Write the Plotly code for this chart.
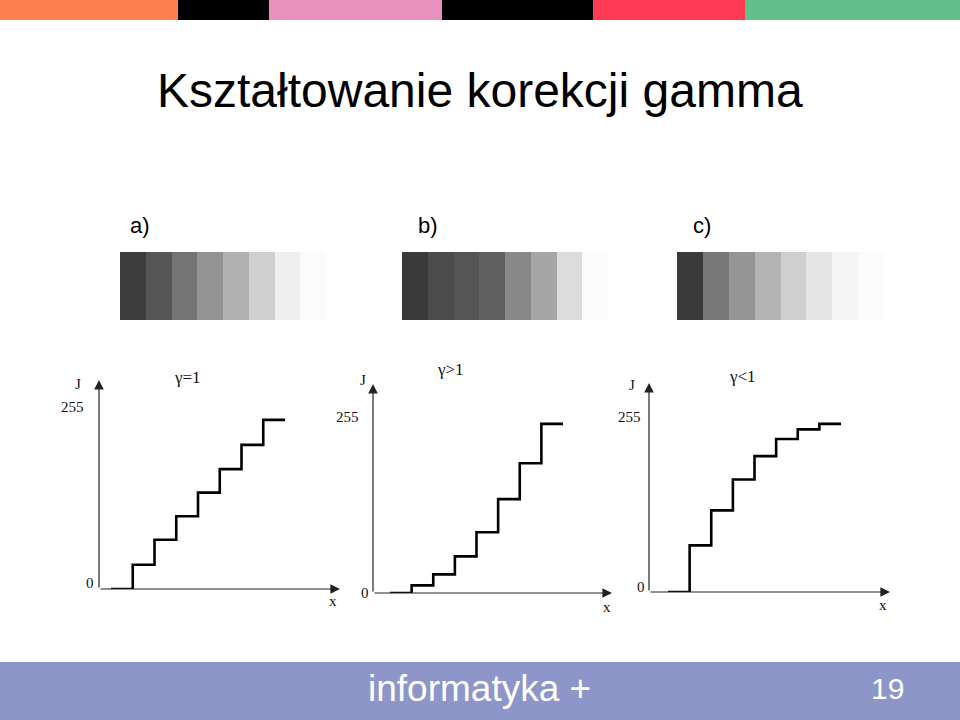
import plotly.graph_objects as go

# ---------------- data ----------------
panel_labels = ["a)", "b)", "c)"]
gamma_labels = ["γ=1", "γ>1", "γ<1"]

# gray levels of the 8 strips in each panel
strip_a = [61, 86, 116, 147, 177, 208, 239, 251]
strip_b = [58, 76, 85, 95, 136, 166, 220, 251]
strip_c = [58, 120, 149, 180, 207, 229, 245, 251]

# input intensity edges (8 quantisation steps)
x_edges = [0, 32, 64, 96, 128, 160, 192, 224, 256]
# output levels J of each step
levels_a = [0, 34, 69, 102, 135, 168, 202, 237]
levels_b = [0, 11, 27, 53, 88, 136, 188, 245]
levels_c = [0, 68, 119, 164, 198, 223, 237, 245]

W, H = 960, 720
def px(x):
    return x / W
def py(y):
    return 1 - y / H

fig = go.Figure()

# ---------- staircase panels ----------
panels = [
    dict(levels=levels_a, ox=99, oy=589, top=380, s0=111, s1=285, j255=407, tip=340),
    dict(levels=levels_b, ox=373, oy=593, top=384, s0=390, s1=563, j255=417, tip=612),
    dict(levels=levels_c, ox=649, oy=592, top=383, s0=668, s1=841, j255=417, tip=890),
]
text_pos = [
    dict(J=(78, 384), t255=(72, 407), t0=(90, 583), x=(333, 601), g=(187, 377)),
    dict(J=(363, 380), t255=(347, 417), t0=(365, 593), x=(607, 607), g=(450, 370)),
    dict(J=(632, 385), t255=(629, 417), t0=(641, 587), x=(883, 605), g=(742, 376)),
]

annotations = []
for i, p in enumerate(panels):
    n = "" if i == 0 else str(i + 1)
    xa, ya = "x" + n, "y" + n
    step_px = (p["s1"] - p["s0"]) / 8.0
    unit = step_px / 32.0
    xmin = -(p["s0"] - p["ox"]) / unit
    xmax = (p["tip"] - p["s0"]) / unit
    jpx = (p["oy"] - p["j255"]) / 255.0
    ymax = (p["oy"] - p["top"]) / jpx
    levels = p["levels"]
    fig.add_trace(go.Scatter(
        x=x_edges, y=levels + [levels[-1]], mode="lines",
        line=dict(shape="hv", color="black", width=2.6),
        xaxis=xa, yaxis=ya, showlegend=False, hoverinfo="skip"))
    lay_x = dict(domain=[px(p["ox"]), px(p["tip"])], range=[xmin, xmax],
                 visible=False, fixedrange=True)
    lay_y = dict(domain=[py(p["oy"]), py(p["top"])], range=[0, ymax],
                 visible=False, fixedrange=True)
    if i > 0:
        lay_y["anchor"] = xa
        lay_x["anchor"] = ya
    fig.update_layout(**{("xaxis" + n): lay_x, ("yaxis" + n): lay_y})
    # axis arrows
    for (tx, ty) in [(xmax, 0), (xmin, ymax)]:
        annotations.append(dict(
            xref=xa, yref=ya, axref=xa, ayref=ya, x=tx, y=ty, ax=xmin, ay=0,
            showarrow=True, arrowhead=2, arrowsize=1.6, arrowwidth=1.2,
            arrowcolor="#222", text=""))
    tp = text_pos[i]
    serif = dict(family="Liberation Serif", size=15, color="#111")
    for key, txt in [("J", "J"), ("t255", "255"), ("t0", "0"), ("x", "x")]:
        annotations.append(dict(xref="paper", yref="paper", x=px(tp[key][0]),
                                y=py(tp[key][1]), text=txt, showarrow=False,
                                font=serif, xanchor="center", yanchor="middle"))
    annotations.append(dict(xref="paper", yref="paper", x=px(tp["g"][0]),
                            y=py(tp["g"][1]), text=gamma_labels[i], showarrow=False,
                            font=dict(family="Liberation Serif", size=17, color="#111"),
                            xanchor="center", yanchor="middle"))

# ---------- gray strips ----------
strips = [strip_a, strip_b, strip_c]
strip_px = [(120, 326), (402, 608), (677, 884)]
label_px = [140, 428, 702]
for k, (vals, (x0, x1)) in enumerate(zip(strips, strip_px)):
    n = str(k + 4)
    fig.add_trace(go.Heatmap(
        z=[vals], x=list(range(8)), y=[0],
        colorscale=[[0, "rgb(0,0,0)"], [1, "rgb(255,255,255)"]],
        zmin=0, zmax=255, showscale=False, hoverinfo="skip",
        xaxis="x" + n, yaxis="y" + n))
    fig.update_layout(**{
        "xaxis" + n: dict(domain=[px(x0), px(x1)], range=[-0.5, 7.5], visible=False,
                          anchor="y" + n, fixedrange=True),
        "yaxis" + n: dict(domain=[py(320), py(252)], range=[-0.5, 0.5], visible=False,
                          anchor="x" + n, fixedrange=True),
    })
    annotations.append(dict(xref="paper", yref="paper", x=px(label_px[k]), y=py(225),
                            text=panel_labels[k], showarrow=False,
                            font=dict(family="Liberation Sans", size=22, color="black"),
                            xanchor="center", yanchor="middle"))

# ---------- title & footer ----------
annotations.append(dict(xref="paper", yref="paper", x=px(480), y=py(90),
                        text="Kształtowanie korekcji gamma", showarrow=False,
                        font=dict(family="Liberation Sans", size=48, color="black"),
                        xanchor="center", yanchor="middle"))
annotations.append(dict(xref="paper", yref="paper", x=px(479), y=py(688),
                        text="informatyka +", showarrow=False,
                        font=dict(family="Liberation Sans", size=37, color="white"),
                        xanchor="center", yanchor="middle"))
annotations.append(dict(xref="paper", yref="paper", x=px(887), y=py(688),
                        text="19", showarrow=False,
                        font=dict(family="Liberation Sans", size=30, color="white"),
                        xanchor="center", yanchor="middle"))

shapes = []
top_bar = [(0, 178, "#fe7f4e"), (178, 269, "#000000"), (269, 442, "#e991bd"),
           (442, 593, "#000000"), (593, 745, "#fe3a54"), (745, 960, "#63c08b")]
for x0, x1, c in top_bar:
    shapes.append(dict(type="rect", xref="paper", yref="paper", x0=px(x0), x1=px(x1),
                       y0=py(20), y1=1, fillcolor=c, line=dict(width=0), layer="below"))
shapes.append(dict(type="rect", xref="paper", yref="paper", x0=0, x1=1,
                   y0=0, y1=py(662), fillcolor="#8e96c9", line=dict(width=0), layer="below"))

fig.update_layout(width=W, height=H, margin=dict(l=0, r=0, t=0, b=0),
                  paper_bgcolor="white", plot_bgcolor="rgba(0,0,0,0)",
                  annotations=annotations, shapes=shapes, showlegend=False)

fig.write_html("out.html")
